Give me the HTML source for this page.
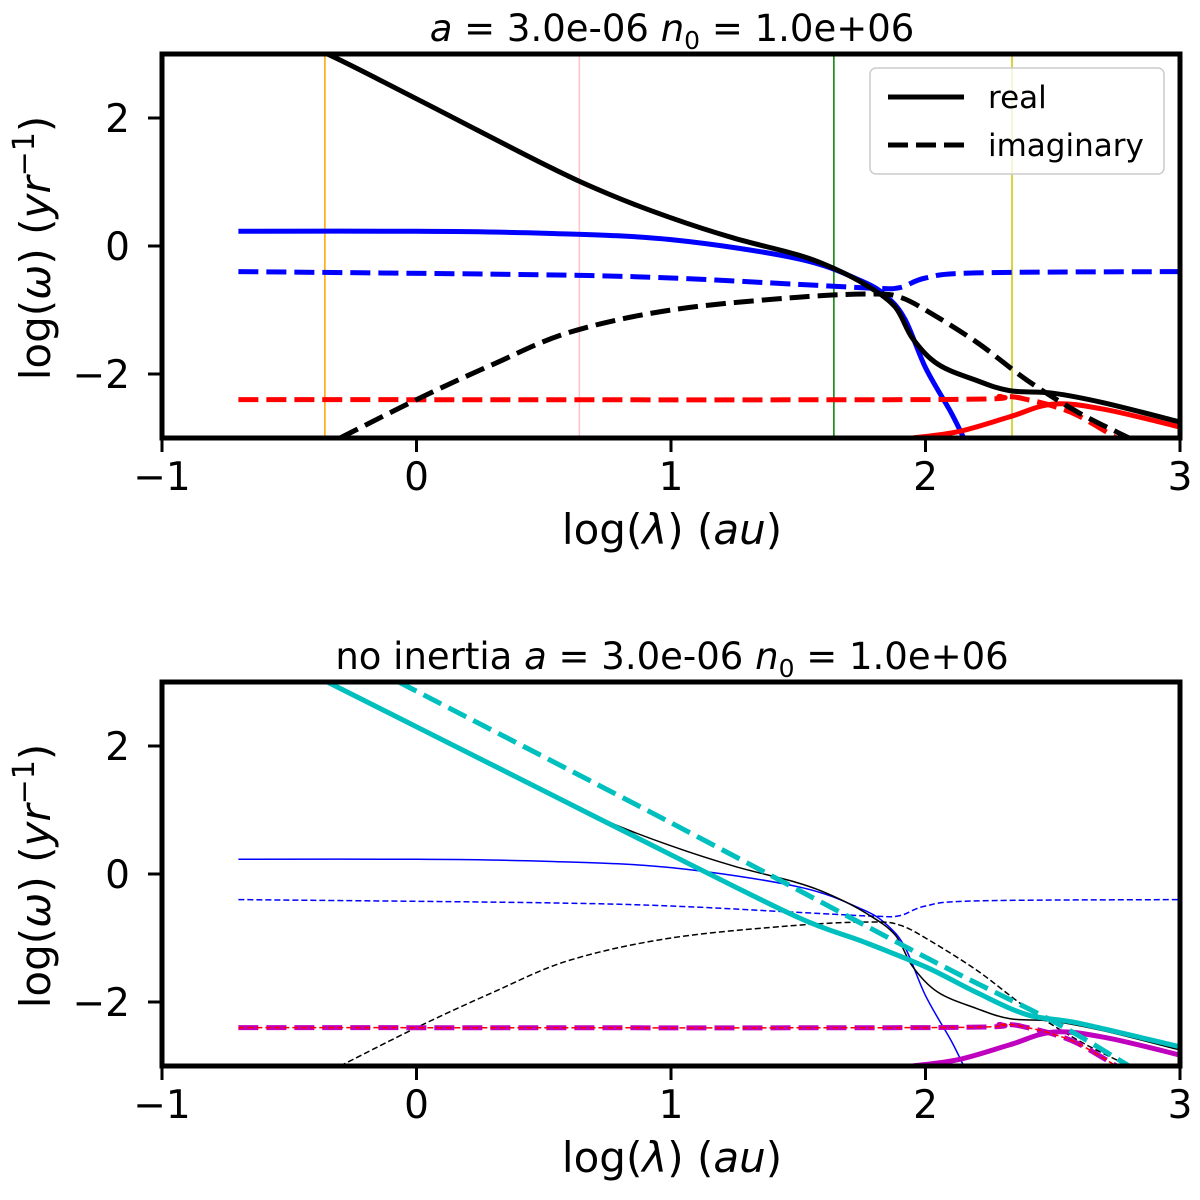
<!DOCTYPE html>
<html><head><meta charset="utf-8"><style>
body{margin:0;background:#fff}
svg text{font-family:"DejaVu Sans","Liberation Sans",sans-serif;fill:#000}
</style></head><body>
<svg id="chart" width="1200" height="1195" xmlns="http://www.w3.org/2000/svg">
<defs>
<clipPath id="clipTop"><rect x="162" y="54" width="1018" height="384"/></clipPath>
<clipPath id="clipBot"><rect x="162" y="682" width="1018" height="384"/></clipPath>
</defs>
<g id="top"></g>
<g id="bot"></g>
</svg>
<script>
const xTicks=[-1,0,1,2,3];
const yTicks=[-2,0,2];
const blackRealX=[-0.7,-0.35,0,0.5,0.75,1,1.25,1.5,1.64,1.77,1.88,1.95,2.05,2.2,2.33,2.5,2.7,3.0];
const blackRealY=[3.6,3.0,2.3,1.28,0.82,0.44,0.12,-0.14,-0.35,-0.62,-0.95,-1.45,-1.85,-2.1,-2.26,-2.3,-2.45,-2.75];
const blueRealX=[-0.7,0,0.5,1,1.5,1.75,1.85,1.92,2.0,2.1,2.15];
const blueRealY=[0.23,0.23,0.2,0.1,-0.2,-0.55,-0.8,-1.15,-1.9,-2.6,-3.0];
const blueImagX=[-0.7,0.5,1.0,1.5,1.8,1.9,2.0,2.2,3.0];
const blueImagY=[-0.4,-0.45,-0.5,-0.6,-0.66,-0.65,-0.5,-0.42,-0.4];
const blackImagX=[-0.3,0,0.3,0.6,1.0,1.5,1.8,1.9,2.0,2.2,2.4,2.6,2.8];
const blackImagY=[-3.0,-2.4,-1.85,-1.35,-1.0,-0.8,-0.75,-0.8,-1.0,-1.5,-2.1,-2.6,-3.0];
const redImagX=[-0.7,2.0,2.3,2.4,2.5,2.6,2.75];
const redImagY=[-2.4,-2.4,-2.35,-2.4,-2.5,-2.65,-3.0];
const redRealX=[1.95,2.13,2.33,2.5,2.7,3.0];
const redRealY=[-3.0,-2.9,-2.67,-2.47,-2.55,-2.83];
const cyanRealX=[-0.35,0,0.5,1.0,1.5,1.75,2.0,2.2,2.4,2.6,3.0];
const cyanRealY=[3.0,2.3,1.3,0.3,-0.68,-1.05,-1.45,-1.85,-2.2,-2.33,-2.7];
const cyanImagX=[-0.07,1.0,2.0,2.5,2.8];
const cyanImagY=[3.0,0.8,-1.3,-2.3,-3.0];
const vLinesX=[-0.36,0.64,1.64,2.34];
const vLinesC=["orange","pink","green","#c8c800"];

const NS="http://www.w3.org/2000/svg";
const X0=162,X1=1180;
const sx=v=>X0+(v+1)*(X1-X0)/4;
function mk(p,tag,at){const e=document.createElementNS(NS,tag);for(const k in at)e.setAttribute(k,at[k]);p.appendChild(e);return e;}
function smooth(P){
  let d="M"+P[0][0].toFixed(1)+","+P[0][1].toFixed(1);
  for(let i=0;i<P.length-1;i++){
    const p0=P[Math.max(i-1,0)],p1=P[i],p2=P[i+1],p3=P[Math.min(i+2,P.length-1)];
    const c1=[p1[0]+(p2[0]-p0[0])/6,p1[1]+(p2[1]-p0[1])/6];
    const c2=[p2[0]-(p3[0]-p1[0])/6,p2[1]-(p3[1]-p1[1])/6];
    d+="C"+c1[0].toFixed(1)+","+c1[1].toFixed(1)+" "+c2[0].toFixed(1)+","+c2[1].toFixed(1)+" "+p2[0].toFixed(1)+","+p2[1].toFixed(1);
  }
  return d;
}
function panel(g,top,clip,title,lines,showLegend,vl){
  const sy=v=>top+(3-v)*64;
  const pl=mk(g,"g",{"clip-path":"url(#"+clip+")"});
  if(vl){vLinesX.forEach((v,i)=>{const l=mk(pl,"line",{x1:sx(v),x2:sx(v),y1:top,y2:top+384,stroke:vLinesC[i],"stroke-width":1.5});
    
    });}
  lines.forEach(s=>{const d=smooth(s.x.map((v,i)=>[sx(v),sy(s.y[i])]));
    const p=mk(pl,"path",{d:d,fill:"none",stroke:s.c,"stroke-width":s.w,"stroke-dasharray":s.dash||"none","stroke-linejoin":"round"});
    
    });
  const fr=mk(g,"rect",{x:X0,y:top,width:X1-X0,height:384,fill:"none",stroke:"#000","stroke-width":5});
  
  
  xTicks.forEach(v=>{mk(g,"line",{x1:sx(v),x2:sx(v),y1:top+384,y2:top+398,stroke:"#000","stroke-width":3});
    const t=mk(g,"text",{x:sx(v),y:top+436,"font-size":39,"text-anchor":"middle"});t.textContent=v<0?"\u2212"+(-v):v;
    
    });
  yTicks.forEach(v=>{mk(g,"line",{x1:X0-14,x2:X0,y1:sy(v),y2:sy(v),stroke:"#000","stroke-width":3});
    const t=mk(g,"text",{x:X0-32,y:sy(v)+14,"font-size":39,"text-anchor":"end"});t.textContent=v<0?"\u2212"+(-v):v;
    
    });
  const xl=mk(g,"text",{x:672,y:top+490,"font-size":42,"text-anchor":"middle"});
  xl.innerHTML='log(<tspan font-style="italic">λ</tspan>) (<tspan font-style="italic">au</tspan>)';
  
  
  const yl=mk(g,"text",{x:0,y:0,"font-size":42,"text-anchor":"middle",transform:"translate(50,"+(top+194)+") rotate(-90)"});
  yl.innerHTML='log(<tspan font-style="italic">ω</tspan>) (<tspan font-style="italic">yr</tspan><tspan font-size="30" dy="-16">−1</tspan><tspan dy="16">)</tspan>';
  
  
  const tt=mk(g,"text",{x:672,y:top-13,"font-size":37,"text-anchor":"middle"});
  tt.innerHTML=title;
  
  
  if(showLegend){
    const lg=mk(g,"g",{});
    
    
    mk(lg,"rect",{x:870,y:68,width:294,height:106,rx:6,fill:"#fff","fill-opacity":0.8,stroke:"#ccc","stroke-width":1.5});
    mk(lg,"line",{x1:888,x2:964,y1:97,y2:97,stroke:"#000","stroke-width":5});
    mk(lg,"line",{x1:888,x2:964,y1:145,y2:145,stroke:"#000","stroke-width":5,"stroke-dasharray":"20,8"});
    const a=mk(lg,"text",{x:988,y:108,"font-size":31});a.textContent="real";
    
    
    const b=mk(lg,"text",{x:988,y:156,"font-size":31});b.textContent="imaginary";
    
    
  }
}
const D="20,8", Dt="6,3";
const titleA='<tspan font-style="italic">a</tspan> = 3.0e-06 <tspan font-style="italic">n</tspan><tspan font-size="25" dy="8">0</tspan><tspan dy="-8"> = 1.0e+06</tspan>';
panel(document.getElementById("top"),54,"clipTop",titleA,[
 {x:blueImagX,y:blueImagY,c:"blue",w:5,dash:D,n:"blue-imaginary-line"},
 {x:blueRealX,y:blueRealY,c:"blue",w:5,n:"blue-real-line"},
 {x:redImagX,y:redImagY,c:"red",w:5,dash:D,n:"red-imaginary-line"},
 {x:redRealX,y:redRealY,c:"red",w:5,n:"red-real-line"},
 {x:blackImagX,y:blackImagY,c:"#000",w:5,dash:D,n:"black-imaginary-line"},
 {x:blackRealX,y:blackRealY,c:"#000",w:5,n:"black-real-line"}],true,true);
panel(document.getElementById("bot"),682,"clipBot","no inertia "+titleA,[
 {x:blueImagX,y:blueImagY,c:"blue",w:1.5,dash:Dt,n:"blue-imaginary-thin"},
 {x:blueRealX,y:blueRealY,c:"blue",w:1.5,n:"blue-real-thin"},
 {x:blackImagX,y:blackImagY,c:"#000",w:1.5,dash:Dt,n:"black-imaginary-thin"},
 {x:blackRealX,y:blackRealY,c:"#000",w:1.5,n:"black-real-thin"},
 {x:redImagX,y:redImagY,c:"#bf00bf",w:5,dash:D,n:"magenta-imaginary-line"},
 {x:redRealX,y:redRealY,c:"#bf00bf",w:5,n:"magenta-real-line"},
 {x:redImagX,y:redImagY,c:"red",w:1.5,dash:Dt,n:"red-imaginary-thin"},
 {x:cyanImagX,y:cyanImagY,c:"#00bfbf",w:5,dash:D,n:"cyan-imaginary-line"},
 {x:cyanRealX,y:cyanRealY,c:"#00bfbf",w:5,n:"cyan-real-line"}],false,false);
</script>
</body></html>
